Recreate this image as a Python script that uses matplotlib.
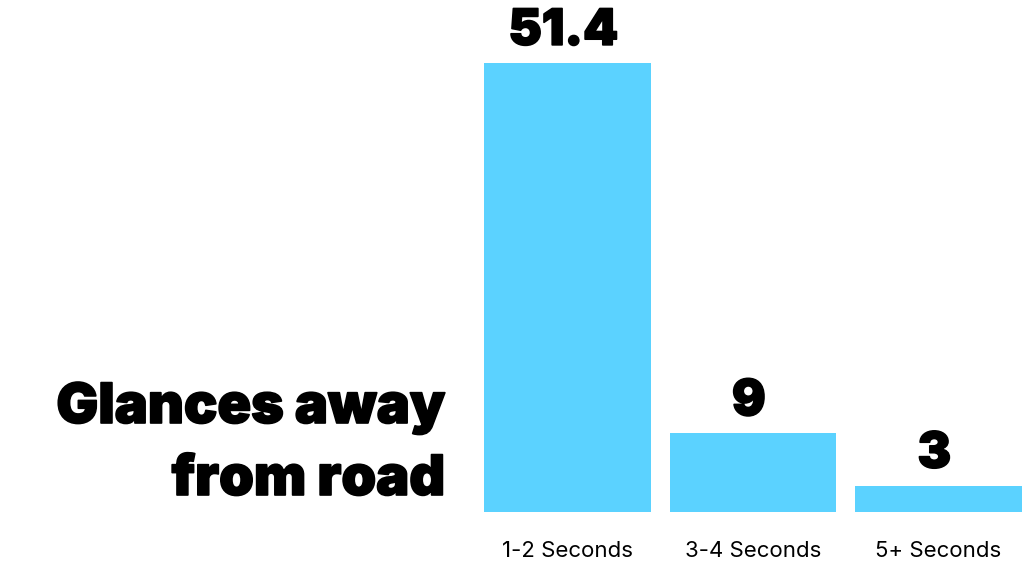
import matplotlib.pyplot as plt
import matplotlib.patheffects as pe
import numpy as np

categories = ["1-2 Seconds", "3-4 Seconds", "5+ Seconds"]
values = [51.4, 9, 3]
value_labels = ["51.4", "9", "3"]

bar_color = "#5BD2FF"
heavy = [pe.withStroke(linewidth=1.2, foreground="black")]

fig = plt.figure(figsize=(10.24, 5.62), dpi=100)
ax = fig.add_axes([484 / 1024, 50 / 562, 538 / 1024, 512 / 562])

x = np.arange(len(categories))
bars = ax.bar(x, values, width=0.9, color=bar_color)
ax.set_xlim(-0.45, 2.45)
ax.set_ylim(0, 58.6)

for b, lab in zip(bars, value_labels):
    ax.annotate(lab, (b.get_x() + b.get_width() / 2, b.get_height()),
                xytext=(-3, 13), textcoords="offset points",
                ha="center", va="baseline", fontsize=36,
                family="Inter", fontweight=900, color="black",
                path_effects=heavy)

ax.set_xticks(x)
ax.set_xticklabels(categories, family="Inter", fontsize=16)
ax.tick_params(axis="x", length=0, pad=21)
ax.set_yticks([])
for s in ax.spines.values():
    s.set_visible(False)

for txt, base in [("Glances away", 423), ("from road", 495)]:
    fig.text(445 / 1024, 1 - base / 562, txt, ha="right", va="baseline",
             fontsize=40, family="Inter", fontweight=900,
             path_effects=heavy)

fig.savefig("out.png", dpi=100, facecolor="white")
